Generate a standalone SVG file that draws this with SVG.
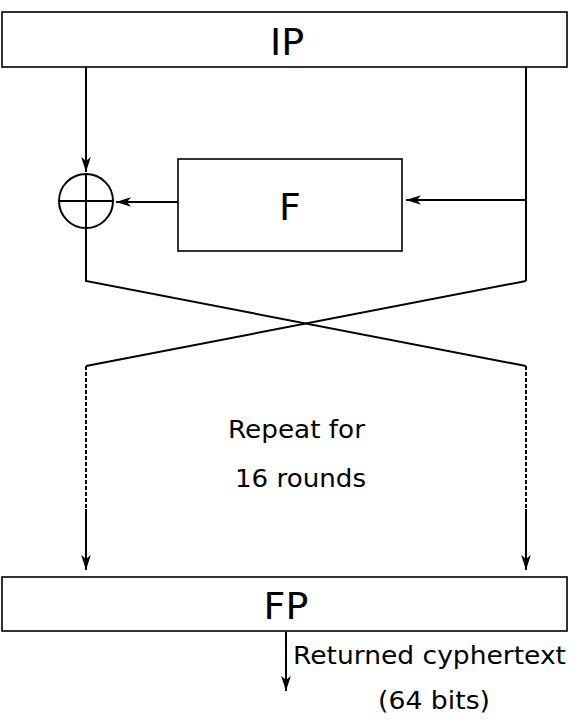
<svg xmlns="http://www.w3.org/2000/svg" width="574" height="722" viewBox="0 0 574 722">
<style>
.box{fill:#fff;stroke:#000;stroke-width:1.6}
.ln{fill:none;stroke:#000;stroke-width:2}
.dash{fill:none;stroke:#000;stroke-width:2;stroke-dasharray:4,2}
.big{font-family:"DejaVu Sans",sans-serif;font-size:38px;fill:#000;text-anchor:middle}
.sm{font-family:"DejaVu Sans",sans-serif;font-size:25.5px;fill:#000}
</style>
<defs>
<marker id="ah" markerUnits="userSpaceOnUse" markerWidth="18" markerHeight="12" viewBox="-16 -6 17 12" refX="0" refY="0" orient="auto">
<path d="M0,0 L-15,-4.8 L-11,0 L-15,4.8 Z" fill="#000"/>
</marker>
</defs>
<g id="connectors">
<path class="ln" d="M86,67 V172" marker-end="url(#ah)"/>
<path class="ln" d="M178,202 H116" marker-end="url(#ah)"/>
<path class="ln" d="M526,67 V281"/>
<path class="ln" d="M526,200 H406" marker-end="url(#ah)"/>
<path class="ln" d="M86,229 V281 L526,366"/>
<path class="ln" d="M526,281 L86,366"/>
<path class="dash" d="M86,366 V510"/>
<path class="dash" d="M526,366 V510"/>
<path class="ln" d="M86,509 V570" marker-end="url(#ah)"/>
<path class="ln" d="M526,509 V570" marker-end="url(#ah)"/>
<path class="ln" d="M286,632 V691" marker-end="url(#ah)"/>
</g>
<g id="IP">
<rect class="box" x="2" y="12" width="565" height="55"/>
<text class="big" x="287" y="55">IP</text>
</g>
<g id="xor">
<circle class="ln" cx="86" cy="201" r="27"/>
<path class="ln" d="M86,174 V228 M59,201 H113"/>
</g>
<g id="F">
<rect class="box" x="178" y="159" width="224" height="92"/>
<text class="big" x="290" y="220">F</text>
</g>
<g id="repeat">
<text class="sm" x="228" y="438" textLength="137" lengthAdjust="spacingAndGlyphs">Repeat for</text>
<text class="sm" x="235" y="487" textLength="131" lengthAdjust="spacingAndGlyphs">16 rounds</text>
</g>
<g id="FP">
<rect class="box" x="2" y="577" width="565" height="54"/>
<text class="big" x="286" y="619">FP</text>
</g>
<g id="output">
<text class="sm" x="293" y="664" textLength="273" lengthAdjust="spacingAndGlyphs">Returned cyphertext</text>
<text class="sm" x="378" y="709" textLength="112" lengthAdjust="spacingAndGlyphs">(64 bits)</text>
</g>
</svg>
